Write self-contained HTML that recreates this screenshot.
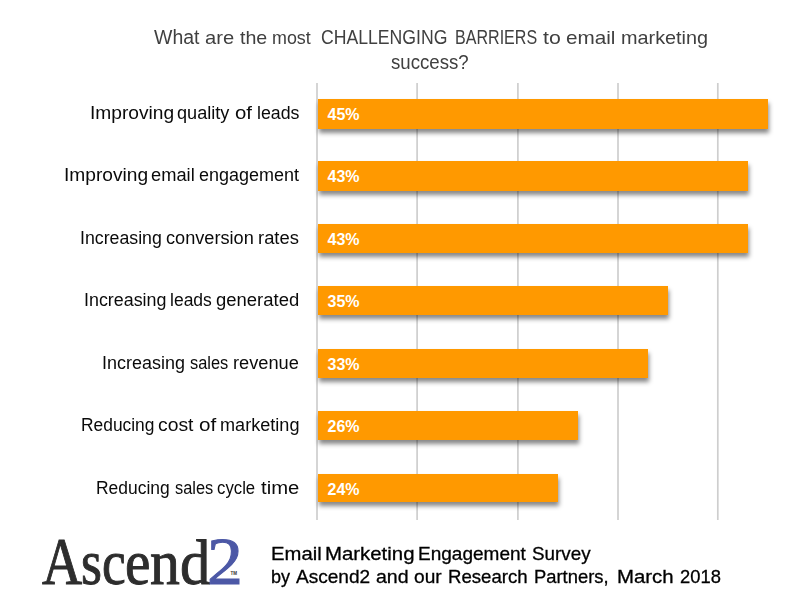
<!DOCTYPE html>
<html><head><meta charset="utf-8">
<style>
html,body{margin:0;padding:0;background:#fff;}
body{width:805px;height:615px;position:relative;overflow:hidden;font-family:"Liberation Sans",sans-serif;}
.t{position:absolute;white-space:nowrap;line-height:1;transform-origin:0 50%;}
.title{font-size:19.6px;color:#404040;}
.lab{font-size:17.5px;color:#0a0a0a;}
.bar{position:absolute;left:318px;height:30px;background:#ff9900;box-shadow:0.5px 3.5px 4.5px rgba(0,0,0,0.47);}
.val{position:absolute;left:9.6px;top:8px;font-size:16px;letter-spacing:-0.1px;font-weight:bold;color:#fff;line-height:1;}
.foot{font-size:18.5px;color:#000;-webkit-text-stroke:0.3px #000;}
.lg{position:absolute;top:528px;font-family:"Liberation Serif",serif;font-size:67.5px;line-height:1;color:#2d2d2d;transform-origin:0 56.5px;-webkit-text-stroke:1px #2d2d2d;}
</style></head><body><div id="wrap" style="position:absolute;left:0;top:0;width:805px;height:615px;">

<div style="position:absolute;left:0;top:0;width:805px;height:82px;filter:grayscale(1);">
<div class="t title" style="font-size:19.6px;left:154.40px;top:28.41px;transform:scaleX(0.9940);">What</div>
<div class="t title" style="font-size:19.0px;left:204.99px;top:28.42px;transform:scaleX(1.0604);">are</div>
<div class="t title" style="font-size:19.0px;left:239.61px;top:28.42px;transform:scaleX(1.0328);">the</div>
<div class="t title" style="font-size:19.0px;left:272.34px;top:28.42px;transform:scaleX(0.9421);">most</div>
<div class="t title" style="font-size:19.6px;left:321.42px;top:28.41px;transform:scaleX(0.9002);">CHALLENGING</div>
<div class="t title" style="font-size:19.6px;left:454.71px;top:28.41px;transform:scaleX(0.8198);">BARRIERS</div>
<div class="t title" style="font-size:19.0px;left:543.38px;top:28.42px;transform:scaleX(1.1201);">to</div>
<div class="t title" style="font-size:19.0px;left:566.37px;top:28.42px;transform:scaleX(1.0896);">email</div>
<div class="t title" style="font-size:19.0px;left:621.11px;top:28.42px;transform:scaleX(1.0440);">marketing</div>
<div class="t title" id="t2" style="left:390.84px;top:53.01px;transform:scaleX(0.9507);">success?</div>
</div>
<svg style="position:absolute;left:0;top:0" width="805" height="615">
<line x1="317" x2="317" y1="83" y2="520" stroke="#cecece" stroke-width="1.7"/>
<line x1="417.1" x2="417.1" y1="83" y2="520" stroke="#cecece" stroke-width="1.7"/>
<line x1="517.9" x2="517.9" y1="83" y2="520" stroke="#cecece" stroke-width="1.7"/>
<line x1="618" x2="618" y1="83" y2="520" stroke="#cecece" stroke-width="1.7"/>
<line x1="717.8" x2="717.8" y1="83" y2="520" stroke="#cecece" stroke-width="1.7"/>
</svg>
<div class="bar" style="top:99px;height:30px;width:450px;"><span class="val">45%</span></div>
<div class="bar" style="top:161px;height:30px;width:430px;"><span class="val">43%</span></div>
<div class="bar" style="top:224px;height:29px;width:430px;"><span class="val">43%</span></div>
<div class="bar" style="top:286px;height:29px;width:350px;"><span class="val">35%</span></div>
<div class="bar" style="top:349px;height:29px;width:330px;"><span class="val">33%</span></div>
<div class="bar" style="top:411px;height:29px;width:260px;"><span class="val">26%</span></div>
<div class="bar" style="top:474px;height:28px;width:240px;"><span class="val">24%</span></div>
<div style="position:absolute;left:0;top:0;width:312px;height:520px;filter:grayscale(1);">
<div class="t lab" id="l1_0" style="left:90.07px;top:104.69px;transform:scaleX(1.0956);">Improving</div>
<div class="t lab" id="l1_1" style="left:176.67px;top:104.69px;transform:scaleX(1.0364);">quality</div>
<div class="t lab" id="l1_2" style="left:235.28px;top:104.69px;transform:scaleX(1.1644);">of</div>
<div class="t lab" id="l1_3" style="left:256.54px;top:104.69px;transform:scaleX(1.0156);">leads</div>
<div class="t lab" id="l2_0" style="left:63.77px;top:166.69px;transform:scaleX(1.0956);">Improving</div>
<div class="t lab" id="l2_1" style="left:151.38px;top:166.69px;transform:scaleX(1.0451);">email</div>
<div class="t lab" id="l2_2" style="left:198.59px;top:166.69px;transform:scaleX(1.0276);">engagement</div>
<div class="t lab" id="l3_0" style="left:79.70px;top:229.69px;transform:scaleX(1.0135);">Increasing</div>
<div class="t lab" id="l3_1" style="left:165.68px;top:229.69px;transform:scaleX(1.0376);">conversion</div>
<div class="t lab" id="l3_2" style="left:258.10px;top:229.69px;transform:scaleX(1.0514);">rates</div>
<div class="t lab" id="l4_0" style="left:83.69px;top:291.69px;transform:scaleX(1.0211);">Increasing</div>
<div class="t lab" id="l4_1" style="left:169.96px;top:291.69px;transform:scaleX(1.0006);">leads</div>
<div class="t lab" id="l4_2" style="left:215.96px;top:291.69px;transform:scaleX(1.0558);">generated</div>
<div class="t lab" id="l5_0" style="left:102.48px;top:354.69px;transform:scaleX(1.0263);">Increasing</div>
<div class="t lab" id="l5_1" style="left:189.71px;top:354.69px;transform:scaleX(0.9364);">sales</div>
<div class="t lab" id="l5_2" style="left:232.91px;top:354.69px;transform:scaleX(1.0418);">revenue</div>
<div class="t lab" id="l6_0" style="left:80.51px;top:416.69px;transform:scaleX(0.9930);">Reducing</div>
<div class="t lab" id="l6_1" style="left:158.03px;top:416.69px;transform:scaleX(1.1043);">cost</div>
<div class="t lab" id="l6_2" style="left:198.57px;top:416.69px;transform:scaleX(1.1788);">of</div>
<div class="t lab" id="l6_3" style="left:220.12px;top:416.69px;transform:scaleX(1.0342);">marketing</div>
<div class="t lab" id="l7_0" style="left:96.00px;top:479.69px;transform:scaleX(0.9972);">Reducing</div>
<div class="t lab" id="l7_1" style="left:174.51px;top:479.69px;transform:scaleX(0.9364);">sales</div>
<div class="t lab" id="l7_2" style="left:217.45px;top:479.69px;transform:scaleX(0.9572);">cycle</div>
<div class="t lab" id="l7_3" style="left:260.60px;top:479.69px;transform:scaleX(1.1585);">time</div>
</div>
<span class="lg" style="left:42.09px;transform:scale(0.8222,1.00)">A</span>
<span class="lg" style="left:81.03px;transform:scale(0.7965,0.95)">s</span>
<span class="lg" style="left:101.83px;transform:scale(0.7908,0.95)">c</span>
<span class="lg" style="left:124.80px;transform:scale(0.8483,0.95)">e</span>
<span class="lg" style="left:149.56px;transform:scale(0.8851,0.95)">n</span>
<span class="lg" style="left:179.67px;transform:scale(0.8970,0.95)">d</span>
<span class="lg" style="left:207.26px;transform:scale(1.0647,1.00);color:#4c58a6;-webkit-text-stroke-color:#4c58a6">2</span>
<span style="position:absolute;left:230.5px;top:571.5px;font-size:4.5px;font-weight:bold;color:#333;line-height:1;">TM</span>
<div class="t foot" id="f1_0" style="left:270.88px;top:544.84px;transform:scaleX(1.0949);">Email</div>
<div class="t foot" id="f1_1" style="left:325.07px;top:544.84px;transform:scaleX(1.1015);">Marketing</div>
<div class="t foot" id="f1_2" style="left:418.38px;top:544.84px;transform:scaleX(1.0278);">Engagement</div>
<div class="t foot" id="f1_3" style="left:532.35px;top:544.84px;transform:scaleX(1.0175);">Survey</div>
<div class="t foot" id="f2_0" style="left:271.33px;top:567.54px;transform:scaleX(0.9768);">by</div>
<div class="t foot" id="f2_1" style="left:296.20px;top:567.54px;transform:scaleX(1.0303);">Ascend2</div>
<div class="t foot" id="f2_2" style="left:375.92px;top:567.54px;transform:scaleX(1.0567);">and</div>
<div class="t foot" id="f2_3" style="left:413.73px;top:567.54px;transform:scaleX(1.0342);">our</div>
<div class="t foot" id="f2_4" style="left:448.01px;top:567.54px;transform:scaleX(1.0066);">Research</div>
<div class="t foot" id="f2_5" style="left:533.73px;top:567.54px;transform:scaleX(0.9935);">Partners,</div>
<div class="t foot" id="f2_6" style="left:617.07px;top:567.54px;transform:scaleX(1.1016);">March</div>
<div class="t foot" id="f2_7" style="left:680.18px;top:567.54px;transform:scaleX(0.9925);">2018</div>
</div></body></html>
